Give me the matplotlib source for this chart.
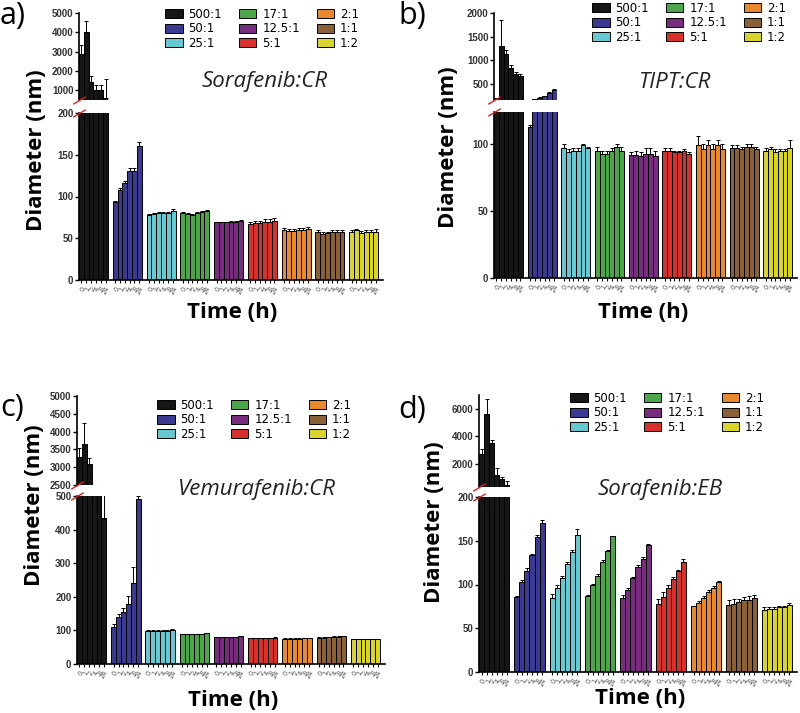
import matplotlib
matplotlib.use('Agg')
import matplotlib.pyplot as plt
import numpy as np

ratios = ['500:1', '50:1', '25:1', '17:1', '12.5:1', '5:1', '2:1', '1:1', '1:2']
colors = ['#161616', '#3b3a92', '#66c9d2', '#4aa646', '#782c7e',
          '#d8312b', '#e8892e', '#8a6136', '#d8d42c']
times = ['0', '1', '2', '4', '8', '24']

# Panel a: Sorafenib:CR
a_vals = [[2900, 4000, 1450, 1000, 1000, 600],
          [93, 108, 116, 131, 131, 161],
          [78, 79, 80, 80, 80, 83],
          [80, 79, 78, 80, 81, 83],
          [69, 69, 69, 70, 70, 71],
          [67, 68, 68, 70, 70, 71],
          [60, 59, 59, 60, 60, 61],
          [58, 55, 56, 58, 58, 58],
          [57, 60, 56, 57, 57, 58]]
a_errs = [[450, 600, 300, 300, 300, 1000],
          [2, 2, 2, 3, 3, 4],
          [1, 1, 1, 1, 1, 2],
          [1, 1, 1, 2, 2, 1],
          [1, 1, 1, 1, 1, 1],
          [3, 3, 3, 3, 3, 3],
          [2, 2, 2, 2, 2, 2],
          [2, 2, 2, 2, 2, 2],
          [3, 1, 3, 3, 3, 3]]

# Panel b: TIPT:CR
b_vals = [[190, 1300, 1120, 820, 700, 660],
          [113, 175, 200, 230, 290, 360],
          [97, 94, 95, 95, 99, 97],
          [95, 93, 93, 95, 98, 95],
          [92, 92, 91, 93, 93, 91],
          [95, 95, 94, 94, 95, 93],
          [99, 96, 99, 96, 99, 96],
          [97, 97, 96, 98, 98, 96],
          [95, 96, 94, 95, 95, 97]]
b_errs = [[10, 550, 100, 80, 40, 40],
          [1, 3, 5, 10, 30, 30],
          [3, 2, 2, 2, 1, 1],
          [3, 2, 2, 2, 2, 3],
          [2, 3, 3, 4, 4, 4],
          [2, 2, 1, 1, 1, 1],
          [7, 4, 4, 4, 4, 4],
          [2, 2, 2, 2, 2, 2],
          [2, 2, 2, 1, 1, 6]]

# Panel c: Vemurafenib:CR
c_vals = [[3300, 3650, 3100, 1500, 1000, 435],
          [110, 140, 155, 178, 240, 490],
          [98, 98, 99, 99, 99, 100],
          [88, 88, 88, 88, 88, 91],
          [80, 80, 80, 80, 80, 82],
          [77, 77, 77, 77, 77, 78],
          [75, 75, 75, 75, 76, 77],
          [78, 78, 79, 80, 80, 82],
          [74, 74, 74, 74, 74, 74]]
c_errs = [[250, 600, 150, 0, 0, 80],
          [8, 8, 12, 25, 50, 10],
          [3, 3, 3, 3, 3, 3],
          [2, 2, 2, 2, 2, 2],
          [1, 1, 1, 1, 1, 1],
          [1, 1, 1, 1, 1, 1],
          [1, 1, 1, 1, 1, 1],
          [2, 2, 2, 3, 2, 2],
          [1, 1, 1, 1, 1, 1]]

# Panel d: Sorafenib:EB
d_vals = [[2700, 5600, 3500, 1200, 900, 450],
          [86, 103, 116, 134, 154, 170],
          [85, 96, 107, 123, 137, 157],
          [87, 100, 110, 126, 138, 155],
          [85, 94, 107, 120, 129, 145],
          [78, 86, 96, 106, 116, 126],
          [75, 79, 85, 92, 96, 103],
          [77, 78, 80, 82, 82, 85],
          [71, 72, 72, 74, 74, 77]]
d_errs = [[400, 1100, 200, 500, 150, 300],
          [1, 2, 3, 1, 3, 4],
          [4, 3, 3, 3, 2, 6],
          [1, 1, 2, 2, 1, 1],
          [3, 2, 2, 2, 2, 1],
          [6, 5, 3, 3, 1, 3],
          [1, 2, 2, 2, 2, 1],
          [5, 5, 4, 4, 5, 3],
          [3, 2, 2, 2, 2, 2]]

W, H = 800, 713
fig = plt.figure(figsize=(8, 7.13), dpi=100)

TICK_FONT = dict(family='Liberation Sans', weight='bold', size=7, color='#333333')


def px_axes(x0, y0, x1, y1):
    return fig.add_axes([x0 / W, 1 - y1 / H, (x1 - x0) / W, (y1 - y0) / H])


def ftext(x, y, s, **kw):
    fig.text(x / W, 1 - y / H, s, **kw)


def draw_bars(ax, vals, errs, labels=True):
    for g, (v, e, c) in enumerate(zip(vals, errs, colors)):
        x = g * 7 + np.arange(6)
        ax.bar(x, v, width=1.0, color=c, edgecolor='black', linewidth=0.7,
               label=ratios[g] if labels else None)
        ax.errorbar(x, v, yerr=[np.zeros(6), e], fmt='none', ecolor='black',
                    elinewidth=0.7, capsize=1.3, capthick=0.7)


def break_mark(ax, y):
    ax.plot([0], [y], transform=ax.transAxes, marker=[(-1, -0.6), (1, 0.6)],
            markersize=9, color='#e02020', mec='#e02020', mew=1.0,
            linestyle='none', clip_on=False, zorder=10)


def panel(low_box, up_top, up_bottom, up_xmax, vals, errs, low_lim, low_ticks,
          up_lim, up_ticks, title, title_xy, letter, letter_xy, ylab_xy,
          xlab_xy, leg_xy):
    x0, y0, x1, y1 = low_box
    lw = x1 - x0
    ax = px_axes(x0, y0, x1, y1)
    draw_bars(ax, vals, errs)
    ax.set_xlim(-0.5, 62.5)
    ax.set_ylim(*low_lim)
    ax.set_yticks(low_ticks)
    xt = [g * 7 + i for g in range(9) for i in range(6)]
    ax.set_xticks(xt)
    ax.set_xticklabels(times * 9, rotation=60, ha='right', fontsize=4.8,
                       color='#555555', rotation_mode='anchor')
    ax.tick_params(axis='x', length=2.5, width=0.8, pad=1.5)
    ax.tick_params(axis='y', length=3, width=1.0, pad=1)
    for lab in ax.get_yticklabels():
        lab.set(**TICK_FONT)
    for s in ['top', 'right']:
        ax.spines[s].set_visible(False)
    for s in ['left', 'bottom']:
        ax.spines[s].set_linewidth(1.2)
    break_mark(ax, 1.0)

    ux1 = x0 + (up_xmax + 0.5) / 63.0 * lw
    ua = px_axes(x0, up_top, ux1, up_bottom)
    draw_bars(ua, vals, errs, labels=False)
    ua.set_xlim(-0.5, up_xmax)
    ua.set_ylim(*up_lim)
    ua.set_yticks(up_ticks)
    ua.set_xticks([])
    ua.tick_params(axis='y', length=3, width=1.0, pad=1)
    for lab in ua.get_yticklabels():
        lab.set(**TICK_FONT)
    for s in ['top', 'right', 'bottom']:
        ua.spines[s].set_visible(False)
    ua.spines['left'].set_linewidth(1.2)
    break_mark(ua, 0.0)

    ftext(*title_xy, title, family='Open Sans', style='italic', fontsize=16,
          ha='center', va='center', color='#222222')
    ftext(*letter_xy, letter, family='Open Sans', fontsize=22,
          ha='left', va='center')
    ftext(*ylab_xy, 'Diameter (nm)', family='Open Sans', weight='bold',
          fontsize=16, rotation=90, ha='center', va='center')
    ftext(*xlab_xy, 'Time (h)', family='Open Sans', weight='bold',
          fontsize=16, ha='center', va='center')
    ax.legend(ncol=3, loc='upper left',
              bbox_to_anchor=(leg_xy[0] / W, 1 - leg_xy[1] / H),
              bbox_transform=fig.transFigure, frameon=False, fontsize=8.5,
              handlelength=1.5, handleheight=0.8, handletextpad=0.5,
              labelspacing=0.12, columnspacing=1.4, borderpad=0,
              borderaxespad=0)


panel((79, 113, 383, 280), 13, 100, 5.6, a_vals, a_errs,
      (0, 200), [0, 50, 100, 150, 200], (500, 5000), [1000, 2000, 3000, 4000, 5000],
      'Sorafenib:CR', (265, 81), 'a)', (0, 16), (37, 150), (232, 313), (165, 8))

panel((494, 112, 797, 278), 13, 100, 12.6, b_vals, b_errs,
      (0, 124), [0, 50, 100], (150, 2000), [500, 1000, 1500, 2000],
      'TIPT:CR', (675, 82), 'b)', (398, 16), (448, 147), (643, 313), (592, 2))

panel((77, 496, 385, 664), 396, 485, 5.6, c_vals, c_errs,
      (0, 500), [0, 100, 200, 300, 400, 500], (2500, 5000),
      [2500, 3000, 3500, 4000, 4500, 5000],
      'Vemurafenib:CR', (257, 490), 'c)', (0, 408), (35, 505), (233, 700), (157, 399))

panel((479, 497, 797, 672), 395, 487, 5.6, d_vals, d_errs,
      (0, 200), [0, 50, 100, 150, 200], (300, 7000), [2000, 4000, 6000],
      'Sorafenib:EB', (660, 490), 'd)', (398, 410), (435, 522), (640, 698), (570, 392))

fig.savefig('out.png', dpi=100)
